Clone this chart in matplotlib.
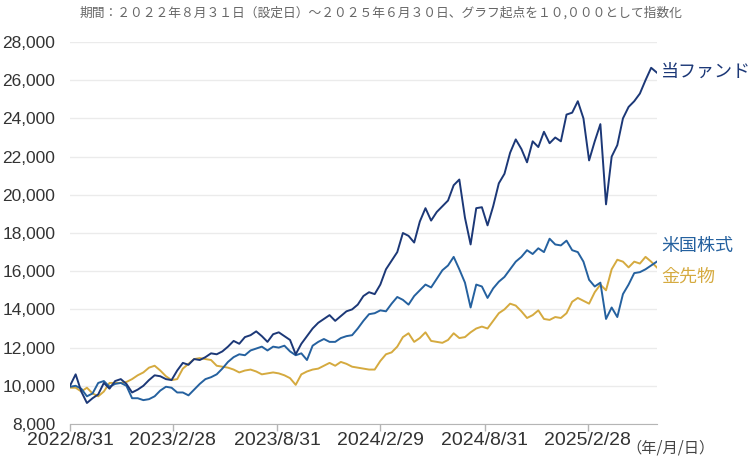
import matplotlib
import numpy as np
import pandas as pd

matplotlib.use("Agg")
import matplotlib.pyplot as plt

start_date = "2022-08-31"
end_date = "2025-06-30"
n_points = 105

fund = [
    10000, 10600, 9700, 9100, 9350, 9550, 10150, 9850, 10250, 10350,
    10100, 9650, 9800, 10000, 10300, 10550, 10500, 10350, 10300, 10800,
    11200, 11100, 11400, 11350, 11500, 11700, 11650, 11800, 12050, 12350,
    12200, 12550, 12650, 12850, 12600, 12300, 12700, 12800, 12600, 12400,
    11650, 12200, 12600, 13000, 13300, 13500, 13700, 13400, 13650, 13900,
    14000, 14250, 14700, 14900, 14800, 15300, 16100, 16550, 17000, 18000,
    17850, 17500, 18600, 19300, 18650, 19100, 19400, 19700, 20500, 20800,
    18800, 17400, 19300, 19350, 18400, 19400, 20600, 21100, 22200, 22900,
    22400, 21700, 22800, 22500, 23300, 22700, 23000, 22800, 24200, 24300,
    24900, 24000, 21800, 22800, 23700, 19500, 22000, 22600, 24000, 24600,
    24900, 25300, 26000, 26650, 26400,
]
us_stock = [
    9950, 10000, 9850, 9450, 9600, 10150, 10250, 9950, 10100, 10150,
    10000, 9350, 9350, 9250, 9300, 9450, 9750, 9950, 9900, 9650,
    9650, 9500, 9800, 10100, 10350, 10450, 10600, 10900, 11250, 11500,
    11650, 11600, 11850, 11950, 12050, 11850, 12050, 12000, 12100, 11800,
    11600, 11700, 11350, 12100, 12300, 12450, 12300, 12300, 12500, 12600,
    12650, 13000, 13400, 13750, 13800, 13950, 13900, 14300, 14650, 14500,
    14250, 14700, 15000, 15300, 15150, 15600, 16050, 16300, 16750, 16100,
    15400, 14100, 15300, 15200, 14600, 15100, 15450, 15700, 16100, 16500,
    16750, 17100, 16900, 17200, 17000, 17700, 17400, 17350, 17600, 17100,
    17000, 16500, 15550, 15200, 15400, 13500, 14100, 13600, 14800, 15300,
    15900, 15950, 16100, 16300, 16500,
]
gold = [
    9900, 9900, 9700, 9900, 9600, 9450, 9700, 10150, 10150, 10150,
    10200, 10350, 10550, 10700, 10950, 11050, 10800, 10500, 10300, 10350,
    10900, 11150, 11400, 11450, 11400, 11350, 11050, 11000, 10950, 10850,
    10700, 10800, 10850, 10750, 10600, 10650, 10700, 10650, 10550, 10400,
    10050, 10600, 10750, 10850, 10900, 11050, 11200, 11050, 11250, 11150,
    11000, 10950, 10900, 10850, 10850, 11300, 11650, 11750, 12050, 12550,
    12750, 12300, 12500, 12800, 12350, 12300, 12250, 12400, 12750, 12500,
    12550, 12800, 13000, 13100, 13000, 13400, 13800, 14000, 14300, 14200,
    13900, 13550, 13700, 13950, 13500, 13450, 13600, 13550, 13800, 14400,
    14600, 14450, 14300, 14900, 15300, 15000, 16100, 16600, 16500, 16200,
    16500, 16400, 16750, 16500, 16200,
]

series_names = ["当ファンド", "米国株式", "金先物"]
series_colors = ["#1c3877", "#25619f", "#d5aa3f"]
label_values = [26430, 17300, 15700]

tick_dates = ["2022-08-31", "2023-02-28", "2023-08-31", "2024-02-29", "2024-08-31", "2025-02-28"]
tick_labels = ["2022/8/31", "2023/2/28", "2023/8/31", "2024/2/29", "2024/8/31", "2025/2/28"]
y_ticks = np.arange(8000, 28001, 2000)

title = "期間：２０２２年８月３１日（設定日）～２０２５年６月３０日、グラフ起点を１０,０００として指数化"

jp_font = ["Noto Sans CJK JP", "DejaVu Sans"]


def main():
    dates = pd.date_range(start_date, end_date, periods=n_points)

    fig = plt.figure(figsize=(7.55, 4.59), dpi=100)
    ax = fig.add_axes([70 / 755, 35 / 459, 586.8 / 755, 382 / 459])

    ax.plot(dates, gold, color=series_colors[2], lw=1.4, zorder=3)
    ax.plot(dates, us_stock, color=series_colors[1], lw=1.4, zorder=4)
    ax.plot(dates, fund, color=series_colors[0], lw=1.4, zorder=5)

    ax.set_xlim(dates[0], dates[-1])
    ax.set_ylim(8000, 28000)

    ax.set_yticks(y_ticks)
    ax.set_yticklabels([f"{v:,}" for v in y_ticks], fontfamily="Liberation Sans",
                       fontsize=12.5, color="#333333")
    ax.yaxis.grid(True, color="#ebebeb", lw=1)
    ax.set_axisbelow(True)
    ax.tick_params(axis="y", length=0, pad=10.5)

    ax.set_xticks(pd.to_datetime(tick_dates))
    ax.set_xticklabels(tick_labels, fontfamily="Liberation Sans", fontsize=14, color="#333333")
    ax.tick_params(axis="x", length=5, color="#b5b5b5", width=1, pad=1)

    for side in ["left", "right", "top"]:
        ax.spines[side].set_visible(False)
    ax.spines["bottom"].set_color("#b5b5b5")

    for name, color, val in zip(series_names, series_colors, label_values):
        ax.annotate(name, xy=(1, val), xycoords=("axes fraction", "data"),
                    xytext=(3, 0), textcoords="offset points", va="center",
                    ha="left", fontsize=13, color=color, family=jp_font,
                    annotation_clip=False)

    ax.annotate("（年/月/日）", xy=(1, 0), xycoords="axes fraction", xytext=(-22, -17),
                textcoords="offset points", ha="left", va="center", fontsize=11,
                color="#444444", family=jp_font, annotation_clip=False)

    fig.text(381 / 755, 1 - 13 / 459, title, ha="center", va="center", fontsize=9.2,
             color="#666666", family=jp_font)

    fig.savefig("out.png", dpi=100)
    plt.close(fig)


if __name__ == "__main__":
    main()
